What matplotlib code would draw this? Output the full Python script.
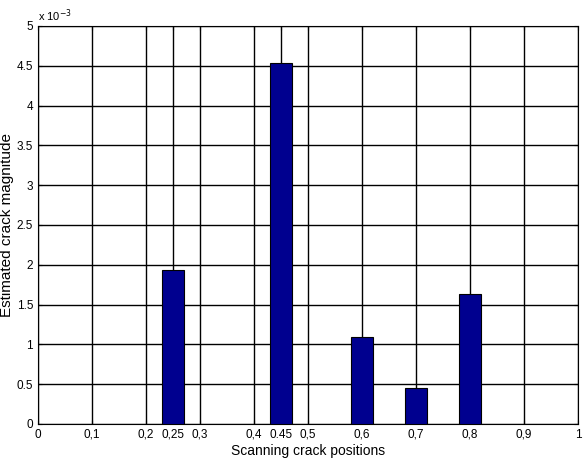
import matplotlib.pyplot as plt

plt.rcParams['font.family'] = ['Liberation Sans', 'DejaVu Sans']

positions = [0.25, 0.45, 0.6, 0.7, 0.8]
magnitudes = [1.93e-3, 4.54e-3, 1.09e-3, 0.45e-3, 1.63e-3]
xticks = [0, 0.1, 0.2, 0.25, 0.3, 0.4, 0.45, 0.5, 0.6, 0.7, 0.8, 0.9, 1]
xtick_labels = ['0', '0,1', '0,2', '0,25', '0,3', '0,4', '0.45', '0,5', '0,6', '0,7', '0,8', '0,9', '1']
yticks = [0, 0.5, 1, 1.5, 2, 2.5, 3, 3.5, 4, 4.5, 5]
ytick_labels = ['0', '0.5', '1', '1.5', '2', '2.5', '3', '3.5', '4', '4.5', '5']

fig = plt.figure(figsize=(5.83, 4.66), dpi=100)
ax = fig.add_axes([38/583, 42/466, 540/583, 398/466])

ax.bar(positions, magnitudes, width=0.04, color='#00008f', edgecolor='black', linewidth=0.8, zorder=3)

ax.set_xlim(0, 1)
ax.set_ylim(0, 5e-3)
ax.set_xticks(xticks)
ax.set_xticklabels(xtick_labels)
ax.set_yticks([v * 1e-3 for v in yticks])
ax.set_yticklabels(ytick_labels)
ax.tick_params(direction='in', length=3, labelsize=8.5, top=True, right=True)
ax.grid(True, color='black', linewidth=1, zorder=0)
ax.set_axisbelow(True)
for s in ax.spines.values():
    s.set_linewidth(0.8)

ax.text(0, 1.005, r'x 10$^{-3}$', transform=ax.transAxes, fontsize=8, ha='left', va='bottom')

ax.set_xlabel('Scanning crack positions', fontsize=10, labelpad=2)
ax.set_ylabel('Estimated crack magnitude', fontsize=11, labelpad=2)

fig.savefig('out.png', dpi=100)
